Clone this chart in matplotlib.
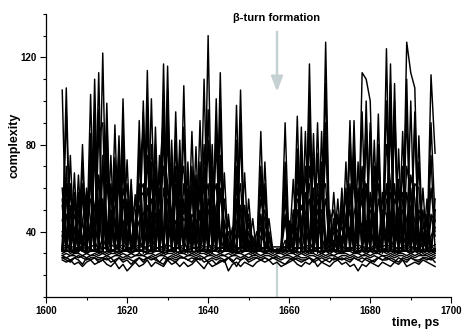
import matplotlib
matplotlib.use('Agg')
import numpy as np
import matplotlib.pyplot as plt
from matplotlib.ticker import MultipleLocator

plt.rcParams['font.family'] = ['Liberation Sans', 'DejaVu Sans']
plt.rcParams['font.weight'] = 'bold'

# time axis, ps (1 ps steps)
time = np.arange(1604, 1697)

# complexity traces with spikes (estimated)
s1 = [105,31,60,30,66,32,55,31,110,31,
      122,31,75,30,84,32,73,31,57,30,
      100,31,101,32,75,30,116,31,95,32,
      107,30,70,31,91,32,130,30,101,31,
      67,31,42,30,105,31,55,32,40,31,
      72,31,32,30,33,31,45,30,93,31,
      86,31,74,30,86,32,50,31,55,30,
      72,31,91,30,113,110,100,31,94,30,
      124,31,108,30,86,31,60,32,84,31,
      55,31,32]
s2 = [32,106,31,67,30,80,31,103,32,113,
      31,99,30,89,31,101,32,64,31,91,
      30,114,31,88,32,117,30,82,31,82,
      32,72,31,79,30,80,31,80,32,113,
      31,48,30,98,32,67,31,46,30,86,
      30,46,31,32,31,90,32,64,31,88,
      31,117,30,90,31,127,32,58,31,60,
      31,91,30,72,31,45,32,82,31,58,
      31,117,30,78,31,127,113,106,32,60,
      31,112,76]
s3 = [60,31,52,31,58,31,48,31,92,30,
      31,80,31,62,31,78,31,55,31,70,
      85,31,72,31,60,31,95,31,70,31,
      88,31,58,31,72,31,96,31,82,31,
      55,31,36,31,84,31,44,31,34,31,
      58,31,31,31,31,31,38,31,78,31,
      70,31,60,31,72,31,42,31,48,31,
      60,31,74,31,95,31,86,31,78,31,
      100,31,90,31,70,31,40,31,72,31,
      45,31,50]
s4 = [31,95,31,58,31,72,31,85,31,96,
      31,84,31,74,31,88,31,52,31,76,
      31,98,31,70,31,100,31,68,31,66,
      31,60,31,66,31,70,31,62,31,97,
      31,40,31,82,31,52,31,38,31,70,
      31,38,31,31,31,72,31,50,31,74,
      31,98,31,76,31,108,31,46,31,50,
      31,78,31,60,31,92,31,70,31,48,
      31,100,31,64,31,110,31,90,31,50,
      31,90,45]
s5 = [45,55,31,48,40,31,60,45,31,66,
      50,31,44,58,31,50,62,31,40,52,
      31,60,48,31,55,70,31,50,58,31,
      62,45,31,50,58,31,48,60,31,70,
      40,31,33,60,50,31,40,31,31,55,
      45,31,31,31,31,55,31,42,60,45,
      31,70,50,31,58,62,31,40,45,31,
      48,60,31,50,70,31,58,48,31,40,
      62,31,55,50,31,70,58,31,48,38,
      31,60,40]
s6 = [31,40,48,31,52,58,31,62,70,31,
      68,45,31,52,60,31,45,38,31,58,
      62,31,55,48,31,80,62,31,55,48,
      31,50,45,31,60,48,31,55,62,31,
      45,36,31,50,62,31,35,31,33,48,
      31,36,31,31,32,48,31,31,55,50,
      58,31,45,55,31,80,36,31,38,42,
      31,55,62,31,68,60,31,55,62,31,
      80,62,31,50,58,31,66,55,31,42,
      40,31,55]
s7 = [40,36,31,42,33,38,31,44,36,31,
      38,31,42,35,31,45,33,31,40,36,
      33,42,31,38,44,31,36,42,31,40,
      36,31,44,38,31,42,35,31,46,38,
      31,34,31,40,36,31,33,31,31,38,
      35,31,31,31,31,36,31,38,42,31,
      40,36,31,42,38,31,34,36,31,38,
      36,42,31,38,44,31,40,36,31,35,
      42,31,38,35,40,31,44,38,31,36,
      33,38,42]
s8 = [31,70,31,31,50,31,31,75,31,85,
      90,31,31,66,31,31,55,31,31,80,
      31,90,31,31,64,95,31,31,82,31,
      31,31,62,31,31,110,31,70,31,31,
      31,31,31,70,31,31,31,31,31,62,
      31,31,31,31,31,31,31,31,70,31,
      31,102,31,31,70,31,31,31,31,31,
      31,31,80,31,31,100,31,31,80,31,
      31,108,31,31,31,31,31,95,31,31,
      31,31,31]
s9 = [31,31,75,31,31,60,31,31,95,31,
      31,92,31,31,78,31,31,60,31,31,
      95,31,31,80,31,31,105,31,31,75,
      31,31,86,31,31,31,31,31,90,31,
      31,31,31,31,90,31,31,31,31,31,
      62,31,31,31,31,31,31,31,31,80,
      31,31,85,31,31,31,31,31,31,55,
      31,85,31,31,31,31,90,31,31,31,
      31,31,100,31,31,31,100,31,31,31,
      31,31,31]
s10 = [52,31,31,55,31,62,31,31,78,31,
       31,70,31,31,66,31,31,48,31,31,
       31,75,31,66,31,31,85,31,31,60,
       70,31,31,60,31,31,82,31,31,75,
       31,31,31,31,31,52,31,31,31,31,
       31,31,31,31,31,31,31,31,70,31,
       31,85,31,31,31,90,31,31,31,31,
       31,31,70,31,31,85,31,31,72,31,
       31,90,31,31,31,95,31,31,31,31,
       31,75,31]
s11 = [38,48,31,52,45,31,50,55,31,48,
       55,31,50,45,31,55,48,31,38,45,
       48,52,31,45,50,31,55,48,31,52,
       45,48,31,42,50,31,55,45,31,58,
       38,31,31,45,48,31,36,31,31,42,
       40,31,31,31,31,45,31,35,48,52,
       48,55,31,45,50,31,38,42,31,45,
       42,50,31,45,55,31,50,45,31,38,
       55,48,31,45,50,31,52,45,31,40,
       31,48,38]
s12 = [31,62,31,31,31,45,31,68,31,31,
       75,31,58,31,31,70,31,31,31,62,
       31,31,66,31,31,90,31,31,62,31,
       31,55,31,31,66,31,31,52,31,92,
       31,31,31,55,31,31,31,31,31,31,
       31,31,31,31,31,62,31,31,31,66,
       31,31,31,62,31,31,31,31,31,31,
       31,62,31,31,31,31,31,62,31,31,
       31,31,31,60,31,31,31,31,31,31,
       31,31,31]
s13 = [55,31,62,40,31,55,48,31,85,50,
       31,62,45,31,72,40,31,52,50,31,
       45,31,80,52,31,60,45,72,31,55,
       48,66,31,55,45,62,31,58,48,31,
       31,45,31,62,40,31,48,31,31,45,
       50,31,31,31,31,66,31,45,31,62,
       45,31,52,48,62,31,45,50,31,48,
       55,31,48,58,31,62,45,31,55,45,
       31,58,48,31,55,45,31,62,60,31,
       48,31,45]
s14 = [31,62,40,55,31,45,58,31,52,62,
       48,31,62,42,31,60,50,31,45,55,
       58,45,31,60,48,31,62,40,45,31,
       55,31,48,45,31,55,62,31,52,60,
       40,31,35,31,52,42,31,36,31,31,
       31,40,31,31,31,31,42,31,50,45,
       55,62,31,50,45,55,31,45,40,31,
       45,50,31,42,60,31,55,40,31,50,
       48,31,62,40,31,58,45,31,50,45,
       31,45,50]

# quiet traces forming the dense band near 30
b1 = [33,34,33,33,32,34,33,33,34,33,
      33,32,34,33,33,34,32,33,33,34,
      33,33,34,32,33,33,34,33,32,33,
      34,33,33,32,34,33,33,34,33,32,
      33,34,33,33,32,33,34,33,33,33,
      32,33,33,33,33,33,34,33,32,33,
      33,34,33,32,33,34,33,33,34,33,
      33,32,33,34,33,33,32,34,33,33,
      34,33,33,32,33,34,33,33,32,34,
      33,33,34]
b2 = [32,31,32,32,33,31,32,32,31,32,
      32,33,31,32,32,31,33,32,32,31,
      32,32,31,33,32,32,31,32,33,32,
      31,32,32,33,31,32,32,31,32,33,
      32,31,32,32,33,32,31,32,32,32,
      33,32,32,31,32,32,31,32,33,32,
      32,31,32,33,32,31,32,32,31,32,
      32,33,32,31,32,32,33,31,32,32,
      31,32,32,33,32,31,32,32,33,31,
      32,32,31]
b3 = [30,31,31,30,31,32,30,31,31,30,
      31,30,31,31,30,31,31,30,32,31,
      31,30,30,31,31,30,31,31,30,31,
      30,31,31,30,31,31,30,31,31,30,
      31,31,30,31,30,31,31,30,31,31,
      30,31,31,31,30,31,31,30,31,30,
      31,30,31,31,30,31,30,31,31,30,
      31,31,30,31,31,30,31,31,30,31,
      30,31,31,30,31,31,30,31,30,31,
      31,30,31]
b4 = [29,30,29,30,30,29,30,29,30,29,
      30,29,30,30,29,30,29,30,29,30,
      29,30,30,29,30,29,30,30,29,30,
      30,29,30,29,30,30,29,30,29,30,
      29,30,29,30,30,29,30,29,30,29,
      30,30,29,30,30,29,30,30,29,30,
      29,30,30,29,30,29,30,29,30,30,
      30,29,30,30,29,30,29,30,30,29,
      29,30,29,30,30,29,30,29,30,29,
      30,29,30]
b5 = [29,28,29,29,28,29,28,29,29,28,
      28,29,28,29,29,28,29,28,29,29,
      29,28,29,28,29,29,28,29,28,29,
      28,29,29,28,29,28,29,29,28,29,
      29,28,29,29,28,29,28,29,29,28,
      29,29,28,29,28,29,29,28,29,28,
      28,29,29,28,29,28,29,29,28,29,
      29,28,29,28,29,29,28,29,28,29,
      28,29,28,29,29,28,29,28,29,29,
      29,28,29]
b6 = [28,28,27,28,29,28,27,28,28,27,
      28,27,28,26,28,27,28,27,26,28,
      27,28,28,27,26,28,27,28,27,28,
      28,27,28,27,28,26,27,28,27,28,
      27,28,26,28,27,28,27,28,28,27,
      28,27,28,28,27,28,28,27,28,27,
      27,28,27,28,26,27,28,27,28,27,
      28,27,28,27,28,27,26,27,28,27,
      27,28,27,26,28,27,28,27,27,28,
      28,27,28]
b7 = [27,26,27,25,26,24,26,27,25,26,
      27,25,24,26,23,25,22,24,26,24,
      25,27,24,26,25,24,27,25,26,24,
      26,24,25,27,25,23,26,24,25,26,
      27,22,25,26,24,26,25,24,26,27,
      26,27,25,26,24,25,26,27,25,24,
      26,25,27,24,26,25,24,26,27,25,
      26,24,25,22,25,24,26,25,24,26,
      25,24,26,25,27,24,25,26,25,27,
      26,25,24]
b8 = [28,27,26,28,27,25,28,27,28,26,
      27,28,26,27,28,26,27,25,27,28,
      26,28,27,28,26,25,28,27,26,28,
      28,27,26,28,27,28,26,27,25,27,
      26,28,27,24,27,28,26,27,28,27,
      28,27,28,27,26,25,27,28,27,26,
      27,28,26,27,28,27,26,28,27,28,
      27,26,28,27,26,28,27,26,28,27,
      28,27,26,28,27,26,28,27,26,28,
      27,28,26]
b9 = [32,33,32,31,33,32,33,32,31,33,
      32,33,31,32,33,32,31,33,32,33,
      33,32,31,32,33,33,32,31,32,33,
      32,31,33,32,33,32,31,32,33,32,
      33,32,32,31,33,32,33,32,31,32,
      32,33,31,32,32,33,32,31,33,32,
      33,32,31,32,33,32,33,31,32,33,
      32,31,33,32,33,32,31,33,32,31,
      33,32,31,32,33,32,33,32,31,32,
      32,33,32]
b10 = [31,32,30,31,32,31,30,32,31,31,
       30,31,32,31,30,31,32,30,31,32,
       31,30,32,31,31,30,31,32,31,30,
       32,31,30,31,32,31,30,31,32,31,
       31,32,31,30,31,32,31,30,31,31,
       31,31,30,32,31,30,31,32,30,31,
       30,31,32,31,30,31,32,31,30,31,
       31,32,31,30,31,32,31,30,31,32,
       32,31,30,31,32,31,30,31,32,30,
       31,32,30]

traces = [b1, b2, b3, b4, b5, b6, b7, b8, b9, b10,
          s1, s2, s3, s4, s5, s6, s7, s8, s9, s10, s11, s12, s13, s14]

event_time = 1657
grey = '#c5d1d2'

fig = plt.figure(figsize=(4.63, 3.3), dpi=100)
ax = fig.add_axes([0.0994, 0.1, 0.8753, 0.858])

ax.plot([event_time, event_time], [10, 30], color=grey, lw=1.5, zorder=0)
for tr in traces:
    ax.plot(time, tr, color='black', lw=1.05)

ax.annotate('', xy=(event_time, 103), xytext=(event_time, 133),
            arrowprops=dict(arrowstyle='-|>,head_width=0.35,head_length=0.9',
                            color=grey, lw=1.8))
ax.text(event_time, 138, 'β-turn formation', ha='center', va='center',
        fontsize=8, fontweight='bold')

ax.set_xlim(1600, 1700)
ax.set_ylim(10, 140)
ax.xaxis.set_major_locator(MultipleLocator(20))
ax.xaxis.set_minor_locator(MultipleLocator(10))
ax.yaxis.set_minor_locator(MultipleLocator(10))
ax.set_yticks([40, 80, 120])
ax.tick_params(which='major', length=4.5, width=0.8, labelsize=7, pad=2)
ax.tick_params(which='minor', length=2.2, width=0.8)
for sp in ['top', 'right']:
    ax.spines[sp].set_visible(False)
for sp in ['left', 'bottom']:
    ax.spines[sp].set_linewidth(0.9)

fig.text(0.031, 0.561, 'complexity', rotation=90, ha='center', va='center',
         fontsize=9, fontweight='bold')
fig.text(0.897, 0.021, 'time, ps', ha='center', va='center', fontsize=9, fontweight='bold')

fig.savefig('out.png', dpi=100)
